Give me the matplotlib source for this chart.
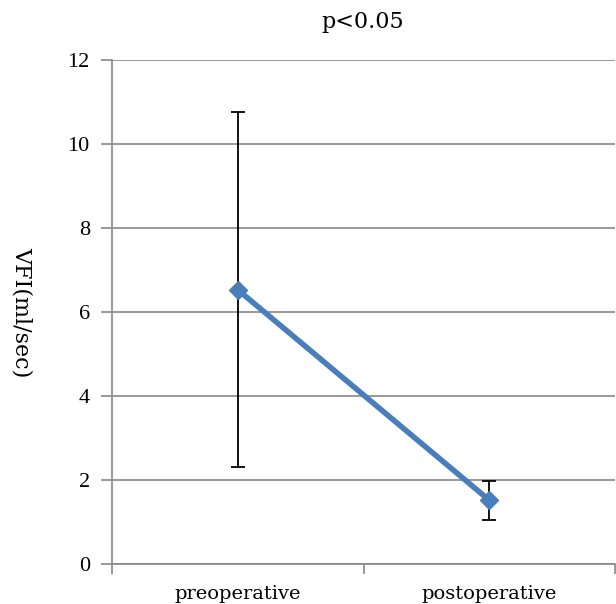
import matplotlib.pyplot as plt
import numpy as np

categories = ['preoperative', 'postoperative']
vfi_mean = [6.53, 1.52]
err_upper = [10.77, 1.98]
err_lower = [2.32, 1.05]
title_text = 'p<0.05'
ylabel_text = 'VFI(ml/sec)'

plt.rcParams['font.family'] = ['Liberation Serif', 'DejaVu Serif']

fig = plt.figure(figsize=(6.16, 6.04), dpi=100)
ax = fig.add_axes([112/616, 40/604, 503/616, 504/604])

x = np.arange(1, len(categories) + 1)
mean = np.array(vfi_mean)
yerr = [mean - np.array(err_lower), np.array(err_upper) - mean]

ax.errorbar(x, mean, yerr=yerr, fmt='none', ecolor='black', elinewidth=1.3,
            capsize=5, capthick=1.3, zorder=3)
ax.plot(x, mean, color='#4A7EBB', lw=4, marker='D', markersize=9,
        markerfacecolor='#4A7EBB', markeredgecolor='#4A7EBB', zorder=4)

ax.set_xlim(0.5, len(categories) + 0.5)
ax.set_ylim(0, 12)
ax.set_yticks(np.arange(0, 13, 2))
ax.set_xticks(x)
ax.set_xticklabels(categories, fontsize=14, family=['DejaVu Serif'])
ax.set_xticks(np.arange(0.5, len(categories) + 1, 1), minor=True)
ax.tick_params(axis='x', which='major', length=0, pad=15)
ax.tick_params(axis='x', which='minor', length=7, color='#888888', width=1.2)
ax.tick_params(axis='y', length=8, color='#888888', width=1.2, labelsize=16, pad=8)

ax.yaxis.grid(True, color='#888888', lw=1.2)
ax.set_axisbelow(True)
for s in ['top', 'right']:
    ax.spines[s].set_visible(False)
for s in ['left', 'bottom']:
    ax.spines[s].set_color('#888888')
    ax.spines[s].set_linewidth(1.2)

ax.set_ylabel(ylabel_text, rotation=270, fontsize=16, family=['DejaVu Serif'], va='center')
ax.yaxis.set_label_coords(-0.18, 0.5)
fig.text(363/616, 1 - 22/604, title_text, ha='center', va='center', fontsize=16,
         family=['DejaVu Serif'])

fig.savefig('out.png', dpi=100)
